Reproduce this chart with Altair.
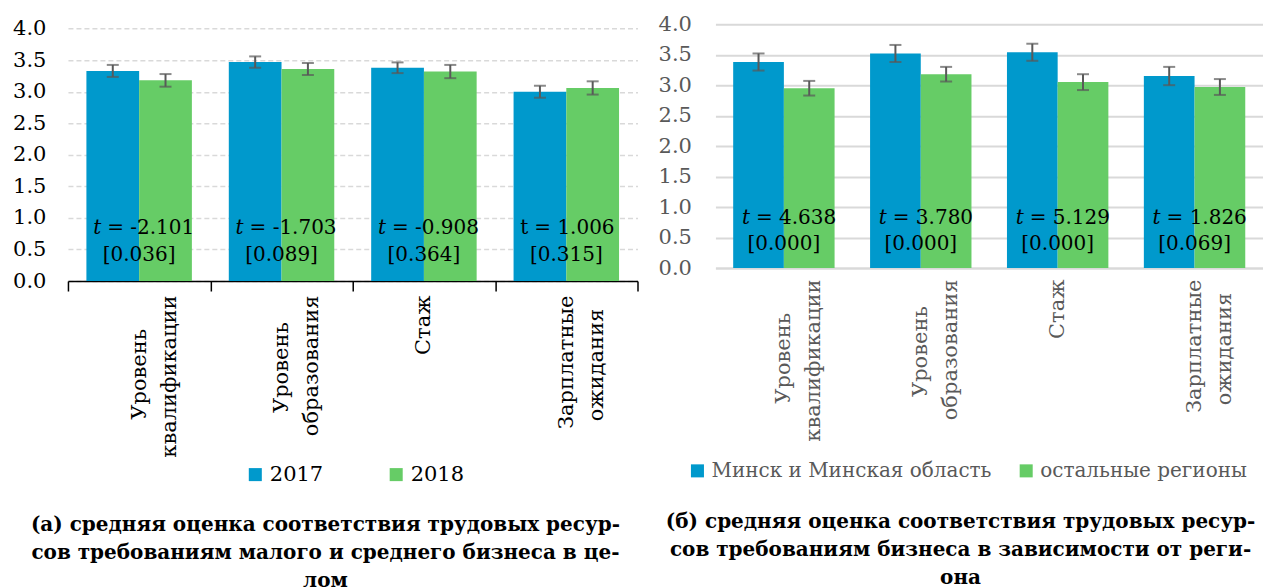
import altair as alt
import pandas as pd

FONT = "DejaVu Serif"
BLUE = "#0099CC"
GREEN = "#66CC66"
ERR = "#595959"
NB = "\u00a0"
ZW = "\u200b"

# ---- data: panel (а)
cats = ["Уровень\nквалификации", "Уровень\nобразования", "Стаж", "Зарплатные\nожидания"]
a_series = ["2017", "2018"]
a_2017 = [3.33, 3.47, 3.38, 3.00]
a_2018 = [3.18, 3.36, 3.32, 3.06]
a_err_2017 = [0.095, 0.09, 0.085, 0.095]
a_err_2018 = [0.10, 0.095, 0.105, 0.105]
a_t = ["-2.101", "-1.703", "-0.908", "1.006"]
a_p = ["0.036", "0.089", "0.364", "0.315"]
a_t_italic = [True, True, True, False]
a_caption = ["(а) средняя оценка соответствия трудовых ресур-",
             "сов требованиям малого и среднего бизнеса в це-",
             "лом"]

# ---- data: panel (б)
b_series = ["Минск и Минская область", "остальные регионы"]
b_minsk = [3.38, 3.52, 3.54, 3.15]
b_other = [2.95, 3.18, 3.05, 2.97]
b_err_minsk = [0.14, 0.14, 0.14, 0.15]
b_err_other = [0.12, 0.12, 0.13, 0.13]
b_t = ["4.638", "3.780", "5.129", "1.826"]
b_p = ["0.000", "0.000", "0.000", "0.069"]
b_t_italic = [True, True, True, True]
b_caption = ["(б) средняя оценка соответствия трудовых ресур-",
             "сов требованиям бизнеса в зависимости от реги-",
             "она"]

y_ticks = [0, 0.5, 1.0, 1.5, 2.0, 2.5, 3.0, 3.5, 4.0]

# split a two-line label; pad the shorter line (kept from trimming by a
# zero-width space) so that both lines look centred, as in the reference
S = "split(datum.label, '\\n')"
LABEL_EXPR = (
    f"length({S}) < 2 ? datum.label : "
    f"[pad({S}[0], length({S}[1]), '{NB}') + '{ZW}', "
    f"pad({S}[1], length({S}[0]), '{NB}') + '{ZW}']"
)

FS_AX = 21
FS_T = 20
FS_CAP = 20


def panel(series, v1, v2, e1, e2, tv, pv, ital, caption, *, width, height,
          ymax, left_style, line1_y, line2_y, t_dx, legend_x, legend_y,
          legend_pad, legend_fs, title_offset):
    rows = []
    for c, a, b, ea, eb in zip(cats, v1, v2, e1, e2):
        rows.append({"cat": c, "s": series[0], "v": a, "lo": a - ea, "hi": a + ea})
        rows.append({"cat": c, "s": series[1], "v": b, "lo": b - eb, "hi": b + eb})
    df = pd.DataFrame(rows)
    tdf = pd.DataFrame({"cat": cats, "num": ["= " + t for t in tv],
                        "p": ["[" + p + "]" for p in pv], "ital": ital,
                        "t": ["t"] * len(cats)})

    lab_col = "black" if left_style else "#595959"
    if left_style:
        xaxis = alt.Axis(title=None, domainColor="black", domainWidth=1.5,
                         ticks=True, tickBand="extent", tickColor="black",
                         tickSize=10, tickWidth=1.5, labelAngle=270,
                         labelAlign="right", labelBaseline="middle",
                         labelFont=FONT, labelFontSize=FS_AX, labelColor=lab_col,
                         labelLineHeight=30, labelPadding=4, labelLimit=0,
                         labelExpr=LABEL_EXPR)
        yaxis = alt.Axis(title=None, values=y_ticks, format=".1f", grid=True,
                         gridDash=[5, 3], gridColor="#d9d9d9", gridWidth=1.5,
                         domain=False, ticks=False, labelFont=FONT,
                         labelFontSize=FS_AX, labelColor=lab_col, labelPadding=22,
                         labelOverlap=False)
    else:
        xaxis = alt.Axis(title=None, domainColor="#d9d9d9", domainWidth=2,
                         ticks=False, labelAngle=270,
                         labelAlign="right", labelBaseline="middle",
                         labelFont=FONT, labelFontSize=FS_AX, labelColor=lab_col,
                         labelLineHeight=30, labelPadding=11, labelLimit=0,
                         labelExpr=LABEL_EXPR)
        yaxis = alt.Axis(title=None, values=y_ticks, format=".1f", grid=True,
                         gridColor="#d9d9d9", gridWidth=2,
                         domain=False, ticks=False, labelFont=FONT,
                         labelFontSize=FS_AX, labelColor=lab_col, labelPadding=24,
                         labelOverlap=False)

    yscale = alt.Scale(domain=[0, ymax], nice=False)
    X = alt.X("cat:N", sort=cats, scale=alt.Scale(paddingInner=0, paddingOuter=0), axis=xaxis)
    XO = alt.XOffset("s:N", sort=series, scale=alt.Scale(paddingInner=0, paddingOuter=0.35))
    Y = alt.Y("v:Q", scale=yscale, axis=yaxis)
    Ylo = alt.Y("lo:Q", scale=yscale, axis=yaxis)
    Yhi = alt.Y("hi:Q", scale=yscale, axis=yaxis)

    bars = alt.Chart(df).mark_bar().encode(
        x=X, xOffset=XO, y=Y,
        color=alt.Color("s:N", sort=series,
                        scale=alt.Scale(domain=series, range=[BLUE, GREEN]),
                        legend=alt.Legend(orient="none", direction="horizontal",
                                          legendX=legend_x, legendY=legend_y,
                                          title=None, symbolType="square",
                                          symbolSize=170, symbolStrokeWidth=0,
                                          labelFont=FONT, labelFontSize=legend_fs,
                                          labelColor=lab_col, columnPadding=legend_pad,
                                          labelOffset=4, labelLimit=0)))
    rule = alt.Chart(df).mark_rule(color=ERR, strokeWidth=2).encode(
        x=X, xOffset=XO, y=Ylo, y2="hi:Q")
    cap_lo = alt.Chart(df).mark_tick(color=ERR, size=12, thickness=2).encode(
        x=X, xOffset=XO, y=Ylo)
    cap_hi = alt.Chart(df).mark_tick(color=ERR, size=12, thickness=2).encode(
        x=X, xOffset=XO, y=Yhi)

    Yt1 = alt.Y(datum=line1_y, scale=yscale, axis=yaxis)
    Yt2 = alt.Y(datum=line2_y, scale=yscale, axis=yaxis)
    t_it = alt.Chart(tdf).transform_filter("datum.ital").mark_text(
        font=FONT, fontSize=FS_T, fontStyle="italic", align="right",
        baseline="middle", dx=t_dx - 6, color="black").encode(
        x=X, y=Yt1, text="t:N")
    t_up = alt.Chart(tdf).transform_filter("!datum.ital").mark_text(
        font=FONT, fontSize=FS_T, align="right",
        baseline="middle", dx=t_dx - 6, color="black").encode(
        x=X, y=Yt1, text="t:N")
    t_num = alt.Chart(tdf).mark_text(
        font=FONT, fontSize=FS_T, align="left", baseline="middle",
        dx=t_dx, color="black").encode(
        x=X, y=Yt1, text="num:N")
    t_p = alt.Chart(tdf).mark_text(
        font=FONT, fontSize=FS_T, align="center", baseline="middle",
        color="black").encode(
        x=X, y=Yt2, text="p:N")

    return alt.layer(bars, rule, cap_lo, cap_hi, t_it, t_up, t_num, t_p).properties(
        width=width, height=height,
        title=alt.TitleParams(text=caption, orient="bottom", anchor="middle",
                              frame="bounds",
                              font=FONT, fontSize=FS_CAP, fontWeight="bold",
                              color="black", lineHeight=28, offset=title_offset))


left = panel(a_series, a_2017, a_2018, a_err_2017, a_err_2018, a_t, a_p,
             a_t_italic, a_caption, width=570, height=257, ymax=4.07,
             left_style=True, line1_y=0.84, line2_y=0.41, t_dx=-32,
             legend_x=177, legend_y=440, legend_pad=62, legend_fs=21,
             title_offset=30)
right = panel(b_series, b_minsk, b_other, b_err_minsk, b_err_other, b_t, b_p,
              b_t_italic, b_caption, width=548, height=244, ymax=4.0,
              left_style=False, line1_y=0.82, line2_y=0.39, t_dx=-28,
              legend_x=-28, legend_y=437, legend_pad=24, legend_fs=20,
              title_offset=31)

chart = alt.hconcat(left, right, spacing=19).resolve_scale(
    x="independent", y="independent", color="independent", xOffset="independent"
).properties(
    padding={"left": 4, "top": 5, "right": 0, "bottom": 0}
).configure_view(stroke=None)

chart.save("out.html", embed_options={"renderer": "svg", "actions": False})
